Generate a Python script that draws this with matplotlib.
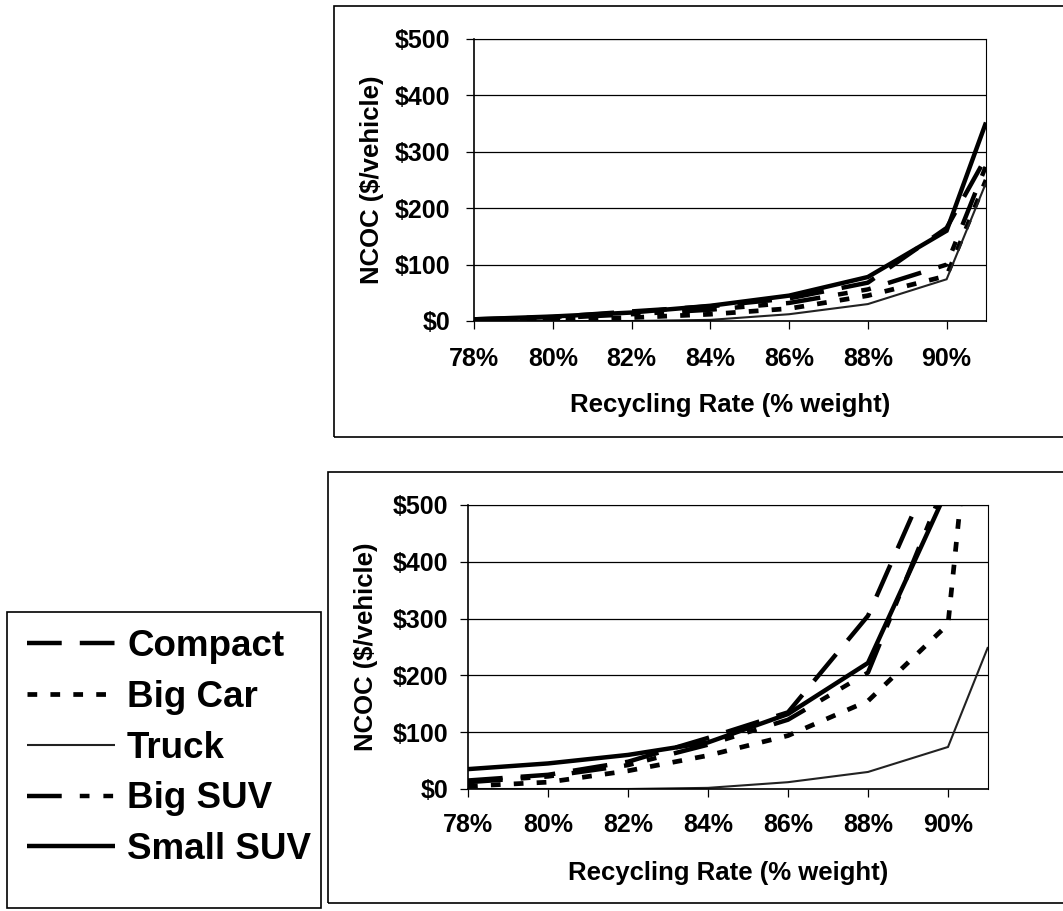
import matplotlib
matplotlib.use('Agg')
import matplotlib.pyplot as plt
from matplotlib.patches import Rectangle

plt.rcParams['font.family'] = ['Liberation Sans', 'DejaVu Sans']
plt.rcParams['font.weight'] = 'bold'
plt.rcParams['lines.scale_dashes'] = False

# ---------------- data ----------------
rates = [78, 80, 82, 84, 86, 88, 90, 91]
series_names = ['Compact', 'Big Car', 'Truck', 'Big SUV', 'Small SUV']

top_compact = [3, 7, 17, 26, 40, 68, 165, 290]
top_bigcar = [1, 3, 6, 12, 22, 45, 80, 250]
top_truck = [0, 0, 0, 2, 12, 30, 74, 245]
top_bigsuv = [2, 5, 12, 20, 32, 56, 100, 275]
top_smallsuv = [3, 8, 15, 27, 45, 78, 160, 352]

bot_compact = [15, 25, 48, 90, 135, 305, 625, 950]
bot_bigcar = [5, 12, 32, 59, 94, 155, 290, 980]
bot_truck = [0, 0, 0, 2, 12, 30, 74, 250]
bot_bigsuv = [12, 22, 42, 78, 122, 205, 550, 900]
bot_smallsuv = [35, 45, 60, 82, 132, 222, 530, 900]

x_ticks = [78, 80, 82, 84, 86, 88, 90]
y_ticks = [0, 100, 200, 300, 400, 500]

styles = {
    'Compact': dict(ls=(0, (25, 13)), lw=3.2, color='black'),
    'Big Car': dict(ls=(0, (7, 9.5)), lw=3.4, color='black'),
    'Truck': dict(ls='-', lw=1.5, color='#222222'),
    'Big SUV': dict(ls=(0, (25, 13, 7, 10, 7, 13)), lw=3.2, color='black'),
    'Small SUV': dict(ls='-', lw=3.2, color='black'),
}

W, H = 1063, 911
fig = plt.figure(figsize=(W / 100, H / 100), dpi=100)

def px_rect(x0, y0, x1, y1):
    return [x0 / W, 1 - y1 / H, (x1 - x0) / W, (y1 - y0) / H]

ax1 = fig.add_axes(px_rect(474, 39, 986, 321))
ax2 = fig.add_axes(px_rect(468, 505, 988, 789))

def setup(ax, data, xpad, ypad, ylab_x, xlab_y):
    handles = []
    for name, vals in zip(series_names, data):
        ln, = ax.plot(rates, vals, label=name, solid_capstyle='butt',
                      dash_capstyle='butt', solid_joinstyle='miter', **styles[name])
        handles.append(ln)
    ax.set_xlim(78, 91)
    ax.set_ylim(0, 500)
    ax.set_xticks(x_ticks)
    ax.set_xticklabels([f'{v}%' for v in x_ticks])
    ax.set_yticks(y_ticks)
    ax.set_yticklabels([f'${v}' for v in y_ticks])
    ax.yaxis.grid(True, color='black', lw=0.9)
    ax.set_axisbelow(True)
    ax.tick_params(axis='x', direction='out', length=6, width=0.9, pad=xpad,
                   labelsize=18)
    ax.tick_params(axis='y', direction='out', length=6, width=0.9, pad=ypad,
                   labelsize=18)
    for s in ['left', 'bottom']:
        ax.spines[s].set_linewidth(1.2)
    for s in ['top', 'right']:
        ax.spines[s].set_linewidth(0.8)
    ax.set_xlabel('Recycling Rate (% weight)', fontsize=18.5, fontweight='bold')
    ax.set_ylabel('NCOC ($/vehicle)', fontsize=18.5, fontweight='bold')
    ax.yaxis.set_label_coords(ylab_x, 0.5)
    ax.xaxis.set_label_coords(0.5, xlab_y)
    return handles

h1 = setup(ax1, [top_compact, top_bigcar, top_truck, top_bigsuv, top_smallsuv],
           13, 11, -0.176, -0.257)
h2 = setup(ax2, [bot_compact, bot_bigcar, bot_truck, bot_bigsuv, bot_smallsuv],
           11.5, 8, -0.173, -0.252)

# outer boxes
def box(x0, y0, x1, y1):
    r = Rectangle((x0 / W, 1 - y1 / H), (x1 - x0) / W, (y1 - y0) / H,
                  transform=fig.transFigure, fill=False, lw=1.2,
                  edgecolor='black', clip_on=False)
    fig.add_artist(r)

box(334, 6, 1075, 437)
box(328, 472, 1075, 903)
box(7, 612, 321, 908)

fig.legend(h1, series_names, loc='upper left',
           bbox_to_anchor=(27 / W, 1 - 629 / H), frameon=False, fontsize=26.5,
           handlelength=2.39, handletextpad=0.33, labelspacing=0.43,
           borderpad=0, borderaxespad=0)

fig.savefig('out.png', dpi=100)
